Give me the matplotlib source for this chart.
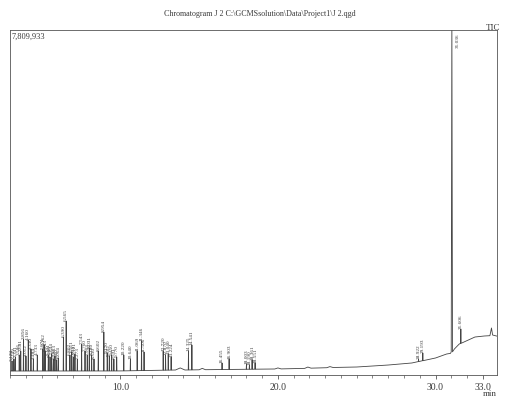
import numpy as np
import matplotlib.pyplot as plt

# chromatogram data
full_scale = 7809933

base_t = [3.0, 10.0, 13.5, 13.8, 14.1, 15.0, 15.2, 15.4, 19.8, 20.0, 20.2, 21.7, 21.9, 22.1,
          23.1, 23.3, 23.5, 25.0, 27.0, 28.5, 30.0, 30.7, 30.95, 31.2, 31.5, 32.5, 33.1,
          33.45, 33.55, 33.62, 33.9]
base_v = [90500, 92000, 113000, 160000, 113000, 118000, 150000, 120000, 136000, 160000, 138000,
          150000, 180000, 155000, 165000, 190000, 170000, 181000, 226000, 272000, 385000,
          475000, 490000, 590000, 700000, 860000, 883000, 890000, 1064000, 905000, 880000]

peak_rt = [3.128, 3.249, 3.341, 3.586, 3.681, 3.856, 4.012, 4.160, 4.330, 4.484, 4.733,
           5.071, 5.162, 5.243, 5.431, 5.540, 5.644, 5.752, 5.853, 5.960, 6.064, 6.390,
           6.565, 6.802, 6.911, 7.014, 7.121, 7.273, 7.543, 7.760, 7.903, 8.031, 8.180,
           8.330, 8.602, 8.954, 9.170, 9.302, 9.450, 9.591, 9.770, 10.220, 10.640, 11.069,
           11.346, 11.506, 12.720, 12.870, 13.040, 13.224, 14.325, 14.541, 16.455, 16.903,
           18.003, 18.190, 18.361, 18.551, 28.922, 29.193, 31.606]
peak_h = [317000, 362000, 407000, 453000, 543000, 815000, 430000, 792000, 589000, 362000, 453000,
          589000, 679000, 543000, 453000, 407000, 475000, 362000, 430000, 340000, 385000, 860000,
          1222000, 453000, 521000, 407000, 475000, 362000, 702000, 543000, 453000, 611000, 453000,
          362000, 543000, 973000, 498000, 430000, 453000, 362000, 407000, 453000, 362000, 543000,
          770000, 521000, 543000, 453000, 475000, 407000, 543000, 679000, 272000, 362000,
          249000, 226000, 340000, 272000, 362000, 498000, 1041000]

main_rt = 31.036

# build the trace: baseline plus narrow peaks
pts = list(zip(base_t, base_v))
for t, h in zip(peak_rt, peak_h):
    b = np.interp(t, base_t, base_v)
    pts += [(t - 0.015, b), (t, h), (t + 0.015, b)]
b = np.interp(main_rt, base_t, base_v)
pts += [(main_rt - 0.04, b), (main_rt, full_scale * 1.05), (main_rt + 0.04, b)]
pts.sort()
tt = [p[0] for p in pts]
vv = [p[1] for p in pts]

serif = 'Liberation Serif'
ink = '#3a3a3a'

fig = plt.figure(figsize=(5.2, 4.02), dpi=100)
ax = fig.add_axes([10/520, 1-376/402, 487/520, 345/402])
ax.plot(tt, vv, color='#444444', lw=0.6)

for t, h in zip(peak_rt, peak_h):
    ax.annotate(f"{t:.3f}", (t, h), xytext=(0, 1), textcoords='offset points',
                rotation=90, ha='center', va='bottom', fontsize=3.8, family=serif, color=ink)
ax.annotate(f"{main_rt:.3f}", (main_rt, full_scale), xytext=(4, -2), textcoords='offset points',
            rotation=90, ha='center', va='top', fontsize=3.8, family=serif, color=ink)

ax.set_xlim(3.0, 33.9)
ax.set_ylim(0, full_scale)
ax.set_yticks([])
ax.set_xticks([10, 20, 30, 33])
ax.set_xticklabels(["10.0", "20.0", "30.0", "33.0"], family=serif, fontsize=7, color=ink)
ax.set_xticks(np.arange(3, 34, 1.0), minor=True)
ax.tick_params(axis='x', which='major', direction='out', length=3, width=0.6, colors='#555555',
               labelcolor=ink, pad=2)
ax.tick_params(axis='x', which='minor', direction='out', length=2, width=0.5, colors='#555555')
for s in ax.spines.values():
    s.set_linewidth(0.6)
    s.set_color('#555555')

ax.text(0.004, 0.995, "7,809,933", transform=ax.transAxes, ha='left', va='top',
        fontsize=6, family=serif, color=ink)
fig.text(0.5, 1-14/402, r"Chromatogram J 2 C:\GCMSsolution\Data\Project1\J 2.qgd",
         ha='center', va='center', fontsize=5.8, family=serif, color=ink)
fig.text(500/520, 1-28/402, "TIC", ha='right', va='center', fontsize=6.5, family=serif, color=ink)
fig.text(497/520, 1-394/402, "min", ha='right', va='center', fontsize=6.5, family=serif, color=ink)

fig.savefig('out.png', dpi=100)
